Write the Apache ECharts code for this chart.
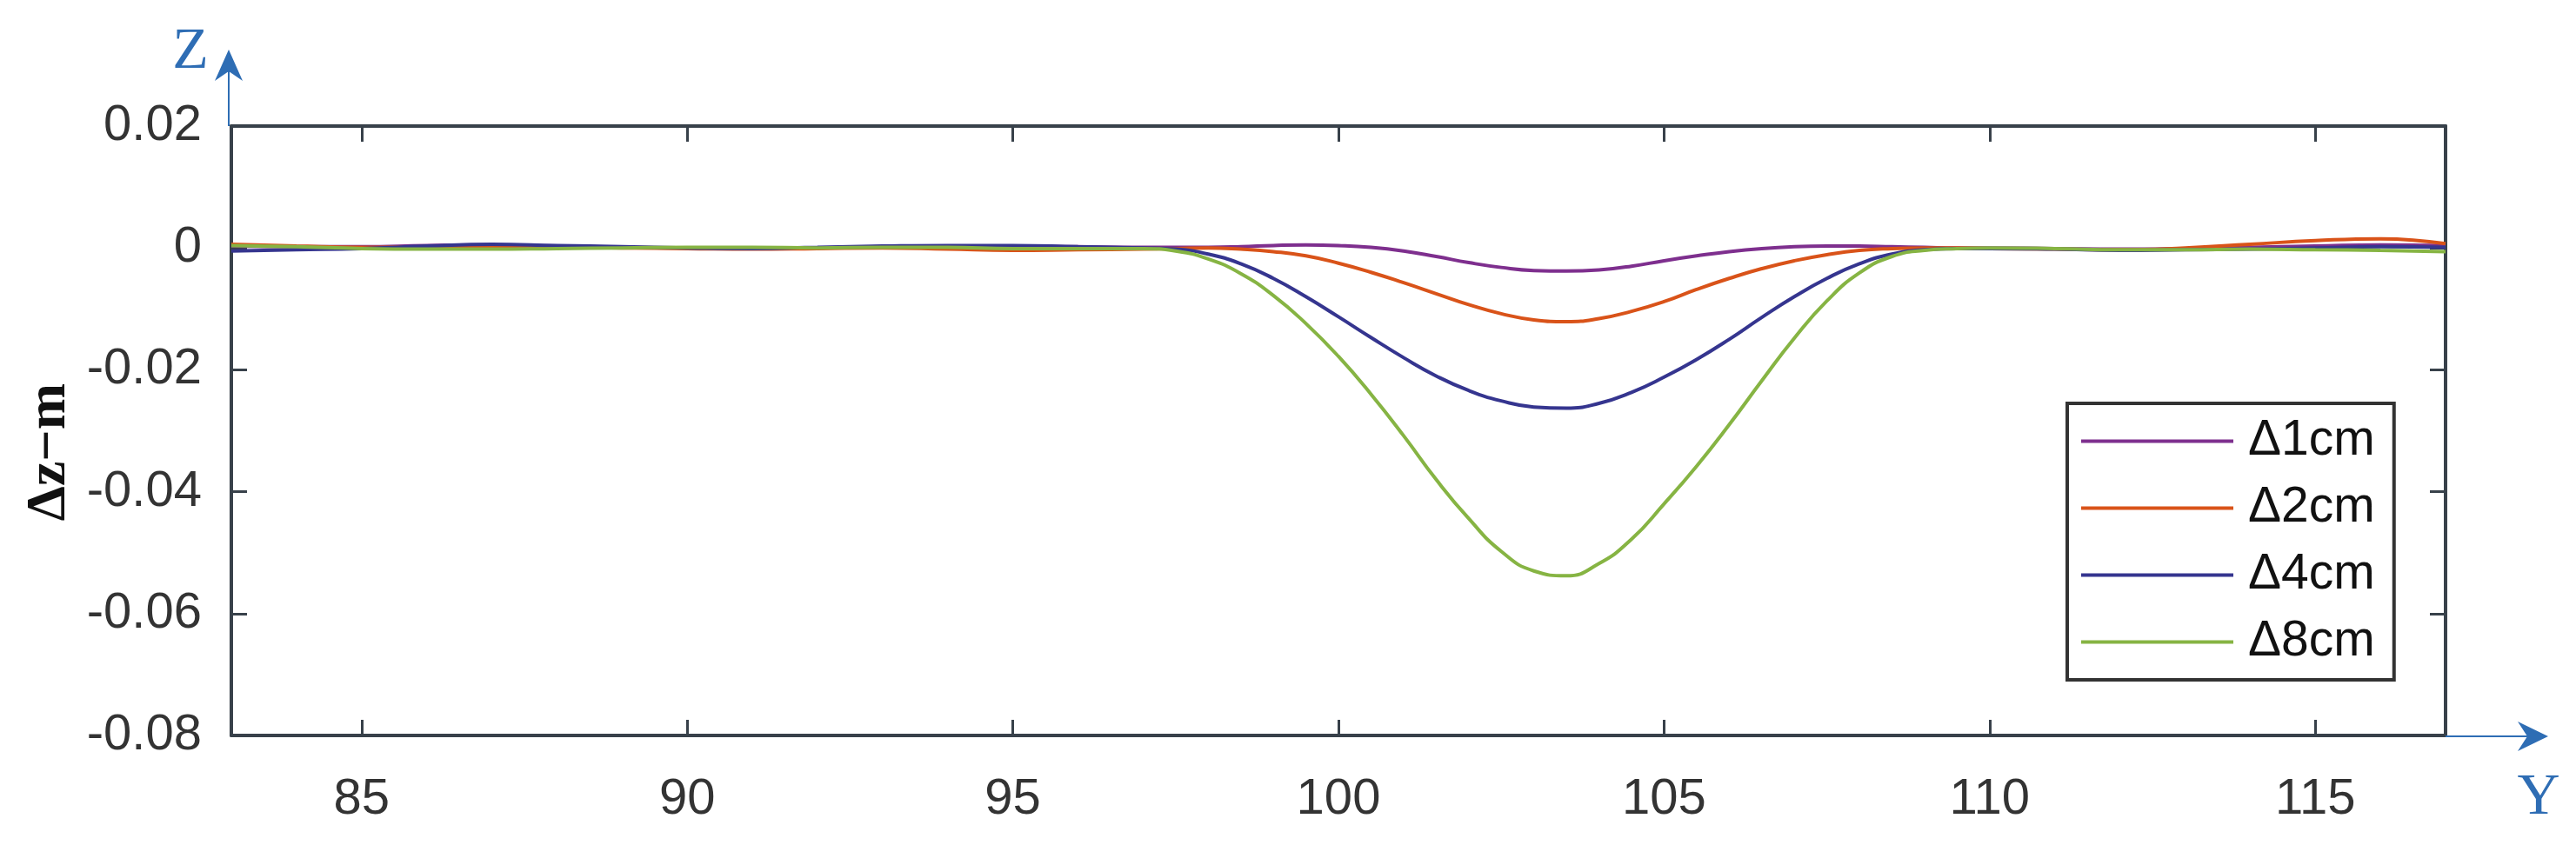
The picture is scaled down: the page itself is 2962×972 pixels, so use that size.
<!DOCTYPE html>
<html>
<head>
<meta charset="utf-8">
<script src="https://cdn.jsdelivr.net/npm/echarts@6/dist/echarts.min.js"></script>
<style>
html,body{margin:0;padding:0;background:#fff;}
#chart{width:2962px;height:972px;}
</style>
</head>
<body>
<div id="chart"></div>
<script>
// ---- data ----
const seriesNames = ['Δ1cm', 'Δ2cm', 'Δ4cm', 'Δ8cm'];
const xTicks = [85, 90, 95, 100, 105, 110, 115];
const yTicks = [-0.08, -0.06, -0.04, -0.02, 0, 0.02];
const xValues = [83,84,85,86,87,88,89,90,91,92,93,94,95,96,
  97,97.5,98,98.5,99,99.5,100,100.5,101,101.5,102,102.5,103,103.5,104,104.5,105,105.5,106,106.5,107,107.5,108,108.5,109,109.5,110,
  111,112,113,114,115,116,117];
const d1cm = [0.0003,0.0002,0.0002,0.0004,0.0005,0.0003,0.0001,0,-0.0001,0,0.0002,0.0003,0.0003,0.0002,
  0.0001,0.0001,0.0001,0.0002,0.0004,0.0005,0.0004,0.0001,-0.0005,-0.0014,-0.0024,-0.0032,-0.0037,-0.0038,-0.0036,-0.0030,-0.0021,-0.0013,-0.0006,-0.0001,0.0002,0.0003,0.0003,0.0002,0.0001,0,0,
  -0.0001,-0.0002,-0.0001,0.0001,0.0003,0.0005,0.0004];
const d2cm = [0.0006,0.0003,0.0001,0.0002,0.0003,0.0002,0,-0.0001,-0.0002,-0.0001,0,-0.0002,-0.0004,-0.0003,
  -0.0002,-0.0001,0,-0.0002,-0.0006,-0.0013,-0.0025,-0.0040,-0.0057,-0.0075,-0.0093,-0.0108,-0.0118,-0.0121,-0.0116,-0.0104,-0.0088,-0.0068,-0.0050,-0.0034,-0.0021,-0.0011,-0.0004,-0.0001,0,0,-0.0001,
  -0.0002,-0.0003,0,0.0006,0.0012,0.0015,0.0007];
const d4cm = [-0.0005,-0.0003,-0.0001,0.0003,0.0006,0.0004,0.0002,0,-0.0001,0.0001,0.0003,0.0004,0.0004,0.0002,
  0,-0.0002,-0.0010,-0.0026,-0.0050,-0.0080,-0.0113,-0.0147,-0.0180,-0.0210,-0.0234,-0.0251,-0.0261,-0.0263,-0.0255,-0.0237,-0.0212,-0.0183,-0.0150,-0.0114,-0.0080,-0.0050,-0.0026,-0.0010,-0.0003,-0.0001,-0.0001,
  -0.0002,-0.0004,-0.0003,-0.0002,0,0.0002,0.0001];
const d8cm = [0.0004,0.0002,-0.0001,-0.0002,-0.0002,-0.0001,0,0.0001,0.0001,0,0.0001,0.0001,-0.0001,-0.0001,
  -0.0001,-0.0005,-0.0018,-0.0042,-0.0078,-0.0124,-0.0178,-0.0240,-0.0308,-0.0380,-0.0444,-0.0498,-0.0530,-0.0538,-0.0518,-0.0478,-0.0420,-0.0358,-0.0290,-0.0218,-0.0148,-0.0087,-0.0041,-0.0014,-0.0004,-0.0001,0,
  -0.0001,-0.0003,-0.0003,-0.0002,-0.0003,-0.0004,-0.0006];
const seriesValues = [d1cm, d2cm, d4cm, d8cm];
const seriesColors = ['#7E2F8E', '#D95319', '#35358F', '#86B443'];

// ---- chart ----
const chart = echarts.init(document.getElementById('chart'), null, {renderer: 'canvas'});
const axisColor = '#38414a';
const labelFont = "'Liberation Sans', Arial, Helvetica, sans-serif";
const arrowBlue = '#2E6DB4';

function xAxisCfg(pos, showLabels) {
  return {
    type: 'value', position: pos, min: 83, max: 117,
    axisLine: {show: true, onZero: false, lineStyle: {color: axisColor, width: 4}},
    axisTick: {show: true, inside: true, length: 18, lineStyle: {color: axisColor, width: 3}, customValues: xTicks},
    axisLabel: {show: showLabels, customValues: xTicks, margin: 45, color: '#333', fontSize: 58, fontFamily: labelFont},
    splitLine: {show: false}
  };
}
function yAxisCfg(pos, showLabels) {
  return {
    type: 'value', position: pos, min: -0.08, max: 0.02, interval: 0.02,
    axisLine: {show: true, onZero: false, lineStyle: {color: axisColor, width: 4}},
    axisTick: {show: true, inside: true, length: 18, lineStyle: {color: axisColor, width: 3}},
    axisLabel: {show: showLabels, margin: 34, color: '#333', fontSize: 58, fontFamily: labelFont,
      formatter: v => (Math.abs(v) < 1e-9 ? '0' : v.toFixed(2))},
    splitLine: {show: false}
  };
}

const series = seriesNames.map((name, i) => ({
  name: name,
  type: 'line',
  xAxisIndex: 0, yAxisIndex: 0,
  data: xValues.map((x, j) => [x, seriesValues[i][j]]),
  showSymbol: false,
  smooth: 0.5,
  lineStyle: {color: seriesColors[i], width: 4},
  itemStyle: {color: seriesColors[i]},
  z: 2 + i
}));

const option = {
  animation: false,
  backgroundColor: '#fff',
  grid: {left: 266, top: 145, right: 150, bottom: 126, containLabel: false},
  xAxis: [xAxisCfg('bottom', true), xAxisCfg('top', false)],
  yAxis: [yAxisCfg('left', true), yAxisCfg('right', false)],
  legend: {
    orient: 'vertical',
    left: 2377, top: 464,
    data: seriesNames,
    icon: 'rect',
    itemWidth: 175, itemHeight: 4,
    itemGap: 20,
    padding: [15, 22, 15, 16],
    borderColor: '#333', borderWidth: 4,
    backgroundColor: '#fff',
    textStyle: {color: '#111', fontSize: 57, lineHeight: 56, fontFamily: labelFont, padding: [0, 0, 0, 12]}
  },
  series: series,
  graphic: [
    // Z arrow above the plot
    {type: 'line', shape: {x1: 263, y1: 145, x2: 263, y2: 72}, style: {stroke: arrowBlue, lineWidth: 2}, z: 10},
    {type: 'polygon', shape: {points: [[263, 57], [279, 93], [263, 82], [247, 93]]}, style: {fill: arrowBlue}, z: 10},
    {type: 'text', x: 219, y: 60, style: {text: 'Z', fill: arrowBlue, font: "68px 'Liberation Serif', 'Times New Roman', serif", align: 'center', verticalAlign: 'middle'}, z: 10},
    // Y arrow to the right of the plot
    {type: 'line', shape: {x1: 2812, y1: 847, x2: 2915, y2: 847}, style: {stroke: arrowBlue, lineWidth: 2}, z: 10},
    {type: 'polygon', shape: {points: [[2930, 847], [2895, 864], [2906, 847], [2895, 830]]}, style: {fill: arrowBlue}, z: 10},
    {type: 'text', x: 2919, y: 918, style: {text: 'Y', fill: arrowBlue, font: "68px 'Liberation Serif', 'Times New Roman', serif", align: 'center', verticalAlign: 'middle'}, z: 10},
    // vertical axis title
    {type: 'text', x: 57, y: 520, rotation: Math.PI / 2, style: {text: 'Δz−m', fill: '#111', font: "bold 64px 'Liberation Serif', 'Times New Roman', serif", align: 'center', verticalAlign: 'middle'}, z: 10}
  ]
};
chart.setOption(option);
</script>
</body>
</html>
